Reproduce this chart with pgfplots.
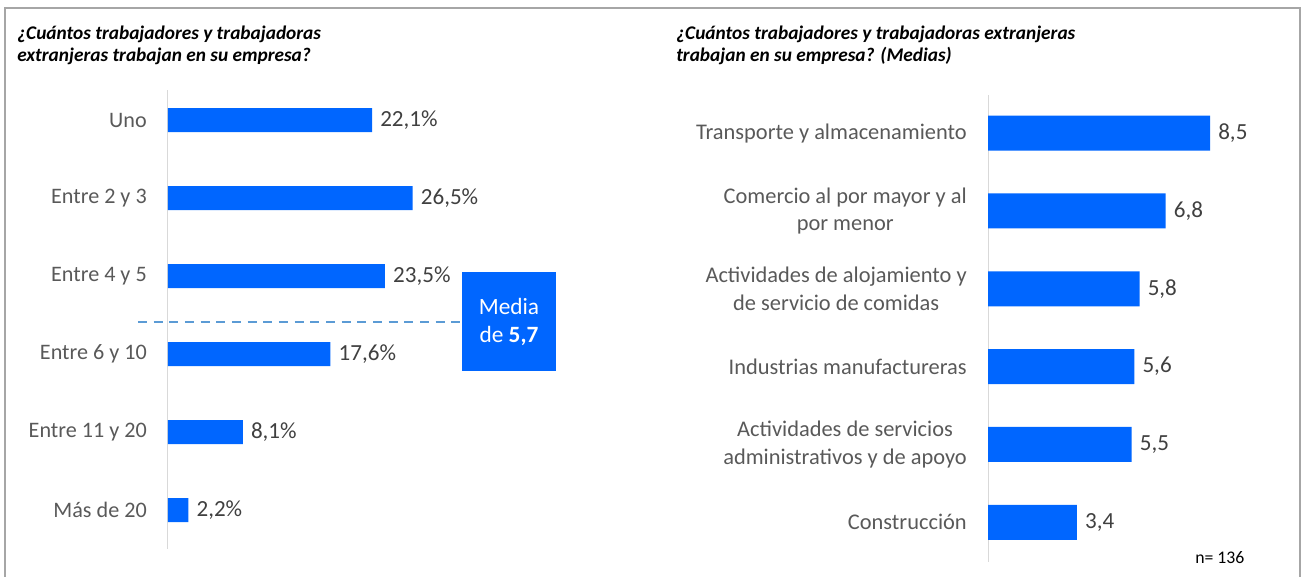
\documentclass[border=0pt]{standalone}
\usepackage{pgfplots}
\pgfplotsset{compat=1.18}
\usepackage{fontspec}
\setmainfont{Carlito}
\definecolor{barblue}{HTML}{0066FF}
\definecolor{lab}{HTML}{595959}
\definecolor{val}{HTML}{404040}
\definecolor{framec}{HTML}{A6A6A6}
\definecolor{dashc}{HTML}{5B9BD5}
\definecolor{axc}{HTML}{D9D9D9}
\begin{document}
\begin{tikzpicture}
\path[use as bounding box] (0pt,0pt) rectangle (980.25pt,-432.75pt);
\draw[framec, line width=1.5pt] (3.75pt,-432.75pt) -- (3.75pt,-6pt) -- (975pt,-6pt) -- (975pt,-432.75pt);
% titles
\node[anchor=base west, font=\fontsize{14.5}{17}\selectfont\bfseries\itshape, inner sep=0pt] at (12.75pt,-30pt) {¿Cuántos trabajadores y trabajadoras};
\node[anchor=base west, font=\fontsize{14.5}{17}\selectfont\bfseries\itshape, inner sep=0pt] at (12.75pt,-46.5pt) {extranjeras trabajan en su empresa?};
\node[anchor=base west, font=\fontsize{14.5}{17}\selectfont\bfseries\itshape, inner sep=0pt] at (507pt,-30pt) {¿Cuántos trabajadores y trabajadoras extranjeras};
\node[anchor=base west, font=\fontsize{14.5}{17}\selectfont\bfseries\itshape, inner sep=0pt] at (507pt,-46.5pt) {trabajan en su empresa? (Medias)};

\begin{axis}[
  at={(126pt,-67.5pt)}, anchor=north west,
  scale only axis, width=207.7pt, height=344.25pt,
  xmin=0, xmax=30, ymin=-0.385, ymax=5.5, y dir=reverse,
  axis x line=none, axis y line*=left,
  axis line style={axc, line width=0.75pt},
  xtick=\empty, ytick={0,1,2,3,4,5},
  yticklabels={Uno,Entre 2 y 3,Entre 4 y 5,Entre 6 y 10,Entre 11 y 20,Más de 20},
  major tick length=0pt,
  yticklabel style={font=\fontsize{16.6}{20}\selectfont, color=lab, inner sep=0pt, xshift=-15.75pt},
  xbar, bar width=18pt, clip=false,
  point meta=x,
  nodes near coords={\pgfmathprintnumber[fixed,fixed zerofill,precision=1,use comma,assume math mode=true]{\pgfplotspointmeta}\%},
  nodes near coords style={font=\fontsize{17.3}{20}\selectfont, color=val, anchor=west, inner sep=0pt, xshift=6pt},
]
\addplot[fill=barblue, draw=none] coordinates {(22.1,0) (26.5,1) (23.5,2) (17.6,3) (8.1,4) (2.2,5)};
\draw[dashc, line width=1.5pt, dash pattern=on 6.75pt off 5pt] (axis cs:-3.25,2.59) -- (axis cs:31.85,2.59);
\end{axis}

\fill[barblue] (346.5pt,-204pt) rectangle (417pt,-278.25pt);
\node[align=center, text=white, font=\fontsize{17.5}{21}\selectfont, inner sep=0pt] at (381.75pt,-241.5pt) {Media\\de \textbf{5,7}};

\begin{axis}[
  at={(741pt,-71.25pt)}, anchor=north west,
  scale only axis, width=195.9pt, height=350.25pt,
  xmin=0, xmax=10, ymin=-0.49, ymax=5.51, y dir=reverse,
  axis x line=none, axis y line*=left,
  axis line style={axc, line width=0.75pt},
  xtick=\empty, ytick={0,1,2,3,4,5},
  yticklabels={Transporte y almacenamiento,{Comercio al por mayor y al\\por menor},{Actividades de alojamiento y\\de servicio de comidas},Industrias manufactureras,{Actividades de servicios\\administrativos y de apoyo},Construcción},
  major tick length=0pt,
  yticklabel style={font=\fontsize{16.8}{20.5}\selectfont, color=lab, inner sep=0pt, xshift=-15.75pt, align=center},
  xbar, bar width=26.25pt, clip=false,
  point meta=x,
  nodes near coords={\pgfmathprintnumber[fixed,fixed zerofill,precision=1,use comma,assume math mode=true]{\pgfplotspointmeta}},
  nodes near coords style={font=\fontsize{17.3}{20}\selectfont, color=val, anchor=west, inner sep=0pt, xshift=6pt},
]
\addplot[fill=barblue, draw=none] coordinates {(8.5,0) (6.8,1) (5.8,2) (5.6,3) (5.5,4) (3.4,5)};
\end{axis}

\node[anchor=base west, font=\fontsize{13.3}{15}\selectfont, text=black, inner sep=0pt] at (896.25pt,-422.25pt) {n= 136};
\end{tikzpicture}
\end{document}
